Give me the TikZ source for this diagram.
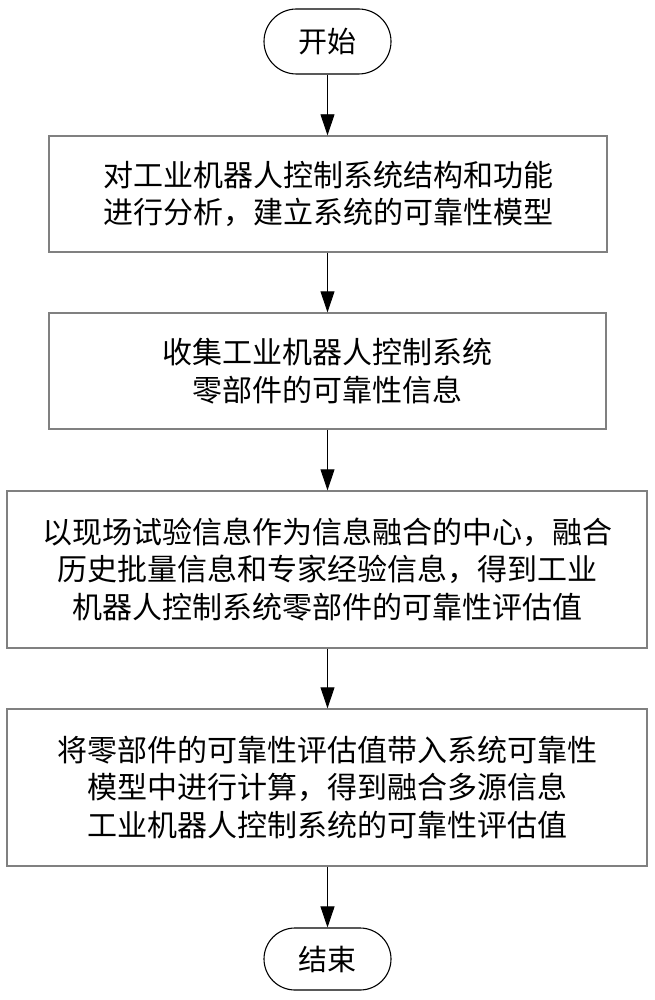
\documentclass[tikz,border=0pt]{standalone}
\usepackage{fontspec}
\newfontfamily\cjk{Noto Sans CJK SC}
\usetikzlibrary{arrows.meta}
\definecolor{boxgray}{RGB}{128,128,128}
\tikzset{
  stepbox/.style={draw=boxgray, line width=1.4pt, rectangle, inner sep=0pt,
    align=center, font=\cjk\fontsize{30}{37.5}\selectfont, text=black},
  term/.style={draw=black, line width=1.1pt, rounded rectangle, inner sep=0pt,
    font=\cjk\fontsize{29}{35}\selectfont, text=black},
  flow/.style={draw=black, line width=0.9pt, -{Triangle[length=21pt,width=14pt]}}
}
\usetikzlibrary{shapes.misc}
\begin{document}
\begin{tikzpicture}[x=1pt,y=-1pt]
\useasboundingbox[fill=white] (0,0) rectangle (655,1000);
\node[term, minimum width=127pt, minimum height=65pt] (start) at (327.5,41.5) {开始};
\node[stepbox, minimum width=558pt, minimum height=116pt] (s1) at (328,194)
  {对工业机器人控制系统结构和功能\\进行分析，建立系统的可靠性模型};
\node[stepbox, minimum width=557pt, minimum height=116pt] (s2) at (327.5,371)
  {收集工业机器人控制系统\\零部件的可靠性信息};
\node[stepbox, minimum width=640pt, minimum height=157pt] (s3) at (327,569.5)
  {以现场试验信息作为信息融合的中心，融合\\历史批量信息和专家经验信息，得到工业\\机器人控制系统零部件的可靠性评估值};
\node[stepbox, minimum width=640pt, minimum height=157pt] (s4) at (327,787.5)
  {将零部件的可靠性评估值带入系统可靠性\\模型中进行计算，得到融合多源信息\\工业机器人控制系统的可靠性评估值};
\node[term, minimum width=127pt, minimum height=62pt] (end) at (327.5,959) {结束};
\draw[flow] (start.south) -- (s1.north -| start.south);
\draw[flow] (s1.south -| start.south) -- (s2.north -| start.south);
\draw[flow] (s2.south -| start.south) -- (s3.north -| start.south);
\draw[flow] (s3.south -| start.south) -- (s4.north -| start.south);
\draw[flow] (s4.south -| start.south) -- (end.north);
\end{tikzpicture}
\end{document}
